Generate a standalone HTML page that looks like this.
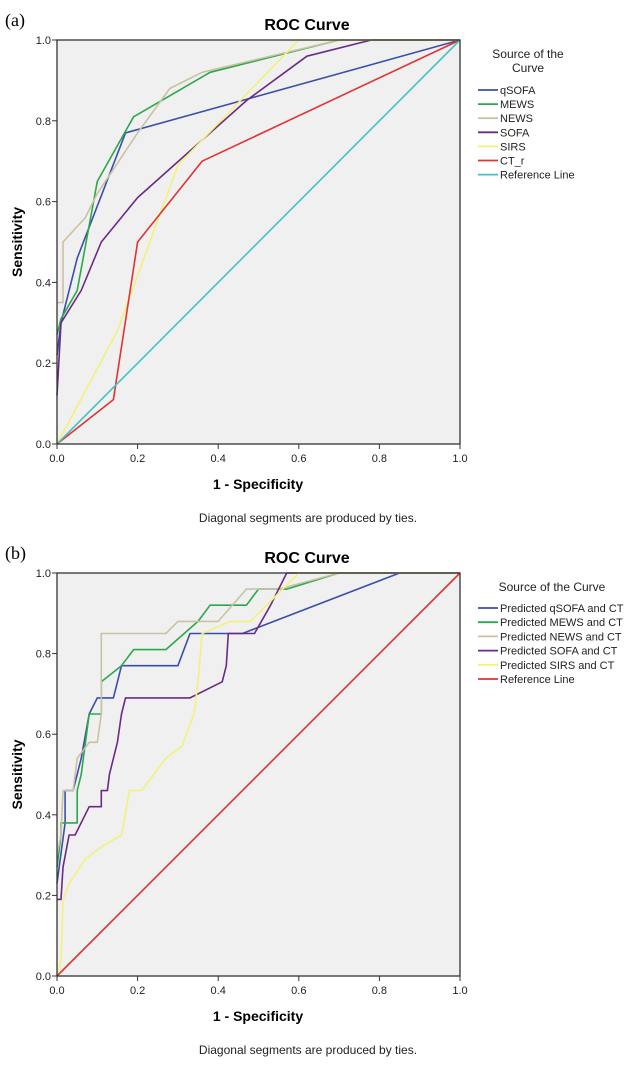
<!DOCTYPE html>
<html><head><meta charset="utf-8">
<style>
html,body{margin:0;padding:0;background:#fff;}
svg{display:block;font-family:"Liberation Sans",Arial,sans-serif;}
</style></head>
<body>
<svg id="fig" width="633" height="1070" viewBox="0 0 633 1070" xmlns="http://www.w3.org/2000/svg"></svg>
<script>
// ---- Panel (a) data ----
const ticks = [0, 0.2, 0.4, 0.6, 0.8, 1.0];
const tickLabels = ["0.0","0.2","0.4","0.6","0.8","1.0"];
const aNames = ["qSOFA","MEWS","NEWS","SOFA","SIRS","CT_r","Reference Line"];
const aColors = ["#3b4fa8","#2aa84a","#c9c2a2","#6b2a88","#f2f27a","#e03333","#45c2c2"];
const aQsofaX = [0,0.01,0.05,0.17,1];
const aQsofaY = [0.22,0.30,0.46,0.77,1];
const aMewsX = [0,0.01,0.05,0.10,0.19,0.38,0.70,1];
const aMewsY = [0.27,0.31,0.38,0.65,0.81,0.92,1,1];
const aNewsX = [0,0.015,0.015,0.07,0.10,0.20,0.28,0.36,0.70,1];
const aNewsY = [0.35,0.35,0.50,0.56,0.62,0.77,0.88,0.92,1,1];
const aSofaX = [0,0.01,0.06,0.11,0.20,0.47,0.62,0.78,1];
const aSofaY = [0.12,0.30,0.38,0.50,0.61,0.85,0.96,1,1];
const aSirsX = [0,0.15,0.30,0.60,1];
const aSirsY = [0,0.28,0.69,1,1];
const aCtX = [0,0.14,0.20,0.36,1];
const aCtY = [0,0.11,0.50,0.70,1];
const aRefX = [0,1];
const aRefY = [0,1];

// ---- Panel (b) data ----
const bNames = ["Predicted qSOFA and CT","Predicted MEWS and CT","Predicted NEWS and CT","Predicted SOFA and CT","Predicted SIRS and CT","Reference Line"];
const bColors = ["#3b4fa8","#2aa84a","#c9c2a2","#6b2a88","#f2f27a","#e03333"];
const bQsofaX = [0,0.02,0.02,0.04,0.06,0.08,0.10,0.14,0.16,0.30,0.33,0.46,0.85,1];
const bQsofaY = [0.23,0.38,0.46,0.46,0.54,0.65,0.69,0.69,0.77,0.77,0.85,0.85,1,1];
const bMewsX = [0,0.01,0.01,0.05,0.05,0.06,0.08,0.11,0.11,0.16,0.19,0.27,0.35,0.38,0.47,0.50,0.57,0.70,1];
const bMewsY = [0.27,0.35,0.38,0.38,0.46,0.50,0.65,0.65,0.73,0.77,0.81,0.81,0.88,0.92,0.92,0.96,0.96,1,1];
const bNewsX = [0,0.01,0.015,0.04,0.05,0.08,0.10,0.11,0.11,0.27,0.30,0.40,0.47,0.55,0.70,1];
const bNewsY = [0.30,0.35,0.46,0.46,0.54,0.58,0.58,0.65,0.85,0.85,0.88,0.88,0.96,0.96,1,1];
const bSofaX = [0,0.01,0.015,0.03,0.045,0.08,0.11,0.11,0.125,0.13,0.15,0.16,0.17,0.33,0.41,0.42,0.425,0.49,0.53,0.57,1];
const bSofaY = [0.19,0.19,0.27,0.35,0.35,0.42,0.42,0.46,0.46,0.50,0.58,0.65,0.69,0.69,0.73,0.77,0.85,0.85,0.92,1,1];
const bSirsX = [0,0.01,0.015,0.03,0.07,0.11,0.16,0.18,0.21,0.27,0.31,0.34,0.35,0.36,0.43,0.48,0.52,0.60,1];
const bSirsY = [0,0.04,0.19,0.23,0.29,0.32,0.35,0.46,0.46,0.54,0.57,0.65,0.73,0.85,0.88,0.88,0.92,1,1];
const bRefX = [0,1];
const bRefY = [0,1];

const NS = "http://www.w3.org/2000/svg";
const svg = document.getElementById("fig");
function el(tag, attrs, parent){
  const e = document.createElementNS(NS, tag);
  for (const k in attrs) e.setAttribute(k, attrs[k]);
  (parent||svg).appendChild(e);
  return e;
}

function panel(opt){
  const x0 = 57, x1 = 460, yT = opt.top, yB = opt.bottom;
  const sx = v => x0 + v*(x1-x0);
  const sy = v => yB - v*(yB-yT);
  const g = el("g", {});
  
  

  const lab = el("text", {x:5, y:opt.top-14, "font-family":"Liberation Serif,serif", "font-size":"18", fill:"#000"}, g);
  lab.textContent = opt.label;
  
  

  const title = el("text", {x:307, y:opt.top-10, "text-anchor":"middle", "font-size":"16", "font-weight":"bold", fill:"#000"}, g);
  title.textContent = "ROC Curve";
  
  

  const bg = el("rect", {x:x0, y:yT, width:x1-x0, height:yB-yT, fill:"#f0f0f0", stroke:"none"}, g);
  
  

  // series
  opt.series.forEach((s, i) => {
    const pts = s.x.map((xv, j) => sx(xv).toFixed(1) + "," + sy(s.y[j]).toFixed(1)).join(" ");
    const pl = el("polyline", {points:pts, fill:"none", stroke:opt.colors[i], "stroke-width":"1.6", "stroke-linejoin":"round"}, g);
    
    
  });

  const fr = el("rect", {x:x0, y:yT, width:x1-x0, height:yB-yT, fill:"none", stroke:"#333", "stroke-width":"1.3"}, g);
  
  

  // ticks
  ticks.forEach((t, i) => {
    el("line", {x1:x0-5, x2:x0, y1:sy(t), y2:sy(t), stroke:"#333", "stroke-width":"1"}, g);
    const ty = el("text", {x:x0-6, y:sy(t)+4, "text-anchor":"end", "font-size":"11", fill:"#222"}, g);
    ty.textContent = tickLabels[i];
    
    
    el("line", {x1:sx(t), x2:sx(t), y1:yB, y2:yB+5, stroke:"#333", "stroke-width":"1"}, g);
    const tx = el("text", {x:sx(t), y:yB+18, "text-anchor":"middle", "font-size":"11", fill:"#222"}, g);
    tx.textContent = tickLabels[i];
    
    
  });

  const yl = el("text", {x:0, y:0, transform:"translate(22," + ((yT+yB)/2) + ") rotate(-90)", "text-anchor":"middle", "font-size":"14", "font-weight":"bold", fill:"#000"}, g);
  yl.textContent = "Sensitivity";
  
  

  const xl = el("text", {x:258, y:yB+45, "text-anchor":"middle", "font-size":"14", "font-weight":"bold", fill:"#000"}, g);
  xl.textContent = "1 - Specificity";
  
  

  const nt = el("text", {x:308, y:yB+78, "text-anchor":"middle", "font-size":"12", fill:"#222"}, g);
  nt.textContent = "Diagonal segments are produced by ties.";
  
  

  // legend
  opt.legendTitle.forEach((t, k) => {
    const lt = el("text", {x:opt.legendTitleX, y:opt.legendTitleY + k*14, "text-anchor":"middle", "font-size":"12", fill:"#222"}, g);
    lt.textContent = t;
    
    
  });
  opt.names.forEach((n, i) => {
    const y = opt.legendY + i*opt.legendStep;
    const lg = el("g", {}, g);
    
    
    el("line", {x1:478, x2:498, y1:y, y2:y, stroke:opt.colors[i], "stroke-width":"1.8"}, lg);
    const tt = el("text", {x:500, y:y+4, "font-size":"11", fill:"#222"}, lg);
    tt.textContent = n;
  });
}

panel({id:"a", label:"(a)", top:40, bottom:444,
  names:aNames, colors:aColors,
  series:[{x:aQsofaX,y:aQsofaY},{x:aMewsX,y:aMewsY},{x:aNewsX,y:aNewsY},{x:aSofaX,y:aSofaY},{x:aSirsX,y:aSirsY},{x:aCtX,y:aCtY},{x:aRefX,y:aRefY}],
  legendTitle:["Source of the","Curve"], legendTitleX:528, legendTitleY:58, legendY:90, legendStep:14.1});

panel({id:"b", label:"(b)", top:573, bottom:976,
  names:bNames, colors:bColors,
  series:[{x:bQsofaX,y:bQsofaY},{x:bMewsX,y:bMewsY},{x:bNewsX,y:bNewsY},{x:bSofaX,y:bSofaY},{x:bSirsX,y:bSirsY},{x:bRefX,y:bRefY}],
  legendTitle:["Source of the Curve"], legendTitleX:552, legendTitleY:591, legendY:608, legendStep:14.2});
</script>
</body></html>
